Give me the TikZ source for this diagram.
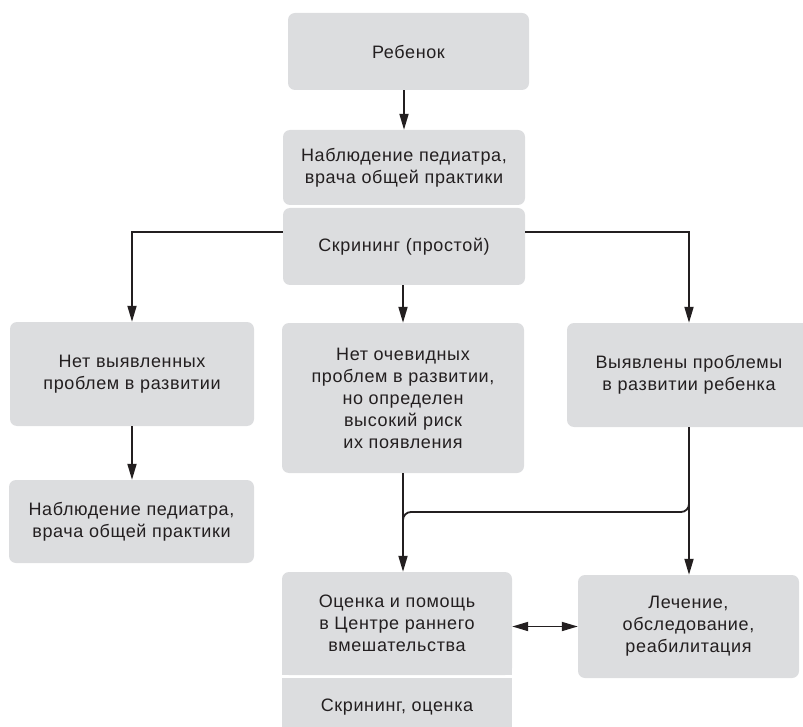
\documentclass[tikz,border=0pt]{standalone}
\usepackage{fontspec}
\setmainfont{Liberation Sans}[LetterSpace=3.5]
\usetikzlibrary{arrows.meta, positioning, calc}
\definecolor{boxgray}{RGB}{220,221,223}
\definecolor{ink}{RGB}{35,31,32}

\begin{document}
\begin{tikzpicture}[x=1pt, y=-1pt,
  >={Triangle[length=16pt, width=9pt]},
  box/.style={fill=boxgray, rounded corners=7pt, align=center, inner sep=0pt, text=ink, font=\fontsize{18}{22}\selectfont},
  flat/.style={box, rounded corners=0pt},
  link/.style={draw=ink, line width=1.8pt},
  arr/.style={link, ->}
]
\useasboundingbox (0,0) rectangle (803,727);
\clip (0,0) rectangle (803,727);

\node[box, minimum width=241pt, minimum height=77pt]  (n-child)  at (408.5,51.5) {Ребенок};
\node[box, minimum width=242pt, minimum height=75pt]  (n-ped)    at (404,167.5)  {Наблюдение педиатра,\\врача общей практики};
\node[box, minimum width=242pt, minimum height=77pt]  (n-screen) at (404,246.5)  {Скрининг (простой)};

\node[box, minimum width=244pt, minimum height=104pt] (n-none)   at (132,374)    {Нет выявленных\\проблем в развитии};
\node[box, minimum width=242pt, minimum height=150pt] (n-risk)   at (403,398)    {Нет очевидных\\проблем в развитии,\\но определен\\высокий риск\\их появления};
\node[box, minimum width=244pt, minimum height=104pt] (n-found)  at (689,375)    {Выявлены проблемы\\в развитии ребенка};

\node[box, minimum width=245pt, minimum height=83pt]  (n-ped2)   at (131.5,521.5) {Наблюдение педиатра,\\врача общей практики};
\node[box, minimum width=230pt, minimum height=103pt] (n-eic)    at (397,623.5)  {Оценка и помощь\\в Центре раннего\\вмешательства};
\fill[boxgray] ([yshift=8pt]n-eic.south west) rectangle (n-eic.south east);
\node[flat, minimum width=230pt, minimum height=58pt] (n-eicscr) at (397,707)    {Скрининг, оценка};
\node[box, minimum width=221pt, minimum height=103pt] (n-treat)  at (688.5,626.5) {Лечение,\\обследование,\\реабилитация};

\draw[arr] (n-child.south -| n-ped.north) -- (n-ped.north);
\draw[arr] ([yshift=14.5pt]n-screen.west) -| (n-none.north);
\draw[arr] ([yshift=14.5pt]n-screen.east) -| (n-found.north);
\draw[arr] (n-screen.south -| n-risk.north) -- (n-risk.north);
\draw[arr] (n-none.south) -- (n-none.south |- n-ped2.north);
\draw[arr] (n-risk.south) -- (n-risk.south |- n-eic.north);
\draw[arr] (n-found.south) -- (n-found.south |- n-treat.north);

% branch from the right column into the middle one
\coordinate (j-right) at (n-found.south |- 0,512);
\coordinate (j-left)  at (n-risk.south |- 0,512);
\draw[link, rounded corners=8pt] ([yshift=14pt]j-right) -- (j-right) -- (j-left) -- ([yshift=-14pt]j-left);

\draw[link, <->] (n-eic.east |- n-treat.west) -- (n-treat.west);

\end{tikzpicture}
\end{document}
